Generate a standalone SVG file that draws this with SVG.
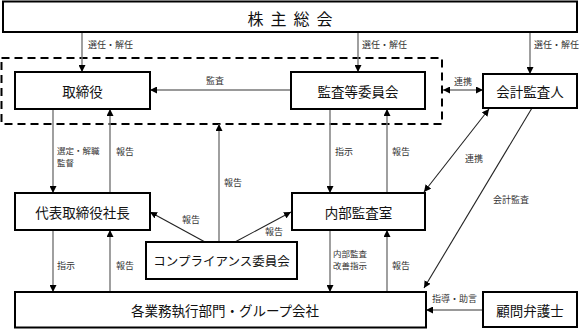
<svg xmlns="http://www.w3.org/2000/svg" width="581" height="329" viewBox="0 0 581 329">
<style>
.box{fill:#fff;stroke:#000;stroke-width:2}
.nt{font-family:"Noto Sans CJK JP","Liberation Serif",sans-serif;font-size:13.5px;fill:#111;text-anchor:middle;dominant-baseline:central}
.lb{font-family:"Noto Sans CJK JP","Liberation Serif",sans-serif;font-size:9px;fill:#333}
.lb2{font-size:8.5px}
.ln{stroke:#777;stroke-width:1.4;fill:none}
.dl{stroke:#222;stroke-width:1.1;fill:none}
</style>
<defs>
<marker id="ah" viewBox="0 0 10 10" refX="10" refY="5" markerWidth="7" markerHeight="7" markerUnits="userSpaceOnUse" orient="auto-start-reverse">
<path d="M0,0 L10,5 L0,10 z" fill="#000"/>
</marker>
</defs>
<rect x="1.5" y="58" width="440.5" height="66" fill="none" stroke="#000" stroke-width="2" stroke-dasharray="8,5"/>
<g id="connectors">
<line class="ln" x1="82" y1="32" x2="82" y2="72" marker-end="url(#ah)"/>
<line class="ln" x1="358" y1="32" x2="358" y2="72" marker-end="url(#ah)"/>
<line class="ln" x1="530" y1="32" x2="530" y2="74" marker-end="url(#ah)"/>
<line class="ln" x1="291" y1="90" x2="150" y2="90" marker-end="url(#ah)"/>
<line class="ln" x1="443" y1="90" x2="483" y2="90" marker-start="url(#ah)" marker-end="url(#ah)"/>
<line class="ln" x1="53" y1="109" x2="53" y2="193" marker-end="url(#ah)"/>
<line class="ln" x1="110" y1="193" x2="110" y2="109" marker-end="url(#ah)"/>
<line class="ln" x1="330" y1="109" x2="330" y2="193" marker-end="url(#ah)"/>
<line class="ln" x1="387" y1="193" x2="387" y2="109" marker-end="url(#ah)"/>
<line class="ln" x1="219" y1="242" x2="219" y2="124" marker-end="url(#ah)"/>
<line class="dl" x1="205" y1="242" x2="150" y2="212" marker-end="url(#ah)"/>
<line class="dl" x1="235" y1="242" x2="291" y2="212" marker-end="url(#ah)"/>
<line class="dl" x1="489" y1="109" x2="424" y2="192" marker-start="url(#ah)" marker-end="url(#ah)"/>
<line class="dl" x1="532" y1="108" x2="424" y2="288" marker-end="url(#ah)"/>
<line class="ln" x1="53" y1="230" x2="53" y2="292" marker-end="url(#ah)"/>
<line class="ln" x1="110" y1="292" x2="110" y2="230" marker-end="url(#ah)"/>
<line class="ln" x1="330" y1="230" x2="330" y2="292" marker-end="url(#ah)"/>
<line class="ln" x1="387" y1="292" x2="387" y2="230" marker-end="url(#ah)"/>
<line class="ln" x1="483" y1="310" x2="426" y2="310" marker-end="url(#ah)"/>
<text class="lb" x="88" y="48">選任・解任</text>
<text class="lb" x="362" y="48">選任・解任</text>
<text class="lb" x="534" y="48">選任・解任</text>
<text class="lb" x="215" y="84" text-anchor="middle">監査</text>
<text class="lb" x="463" y="85" text-anchor="middle">連携</text>
<text class="lb lb2" x="57" y="153.5">選定・解職</text>
<text class="lb lb2" x="57" y="166">監督</text>
<text class="lb" x="116" y="155">報告</text>
<text class="lb" x="335" y="155">指示</text>
<text class="lb" x="392" y="155">報告</text>
<text class="lb" x="224" y="186">報告</text>
<text class="lb" x="465" y="162">連携</text>
<text class="lb" x="493" y="203">会計監査</text>
<text class="lb" x="182" y="223">報告</text>
<text class="lb" x="265" y="235">報告</text>
<text class="lb" x="57" y="269">指示</text>
<text class="lb" x="116" y="269">報告</text>
<text class="lb lb2" x="333" y="256.5">内部監査</text>
<text class="lb lb2" x="333" y="269">改善指示</text>
<text class="lb" x="392" y="269">報告</text>
<text class="lb" x="432" y="302">指導・助言</text>
</g>
<g id="shareholders">
<rect class="box" x="3" y="1.5" width="574" height="30.5"/>
<text class="nt" x="293.5" y="18" style="font-size:16px;letter-spacing:7px">株主総会</text>
</g>
<g id="board">
<rect class="box" x="15" y="72" width="135" height="37"/>
<text class="nt" x="82.5" y="90.5">取締役</text>
</g>
<g id="audit-committee">
<rect class="box" x="291" y="72" width="134" height="37"/>
<text class="nt" x="358" y="90.5">監査等委員会</text>
</g>
<g id="auditor">
<rect class="box" x="483" y="74" width="94" height="34"/>
<text class="nt" x="530" y="91">会計監査人</text>
</g>
<g id="president">
<rect class="box" x="15" y="193" width="135" height="37"/>
<text class="nt" x="82.5" y="211.5">代表取締役社長</text>
</g>
<g id="internal-audit">
<rect class="box" x="292" y="193" width="133" height="37"/>
<text class="nt" x="358.5" y="211.5">内部監査室</text>
</g>
<g id="compliance">
<rect class="box" x="146" y="242" width="151" height="37"/>
<text class="nt" x="221.5" y="260.5" style="font-size:12.5px">コンプライアンス委員会</text>
</g>
<g id="operations">
<rect class="box" x="15" y="292" width="411" height="35.5"/>
<text class="nt" x="225" y="310">各業務執行部門・グループ会社</text>
</g>
<g id="lawyer">
<rect class="box" x="483" y="292" width="94" height="35"/>
<text class="nt" x="530" y="309.5">顧問弁護士</text>
</g>
</svg>
